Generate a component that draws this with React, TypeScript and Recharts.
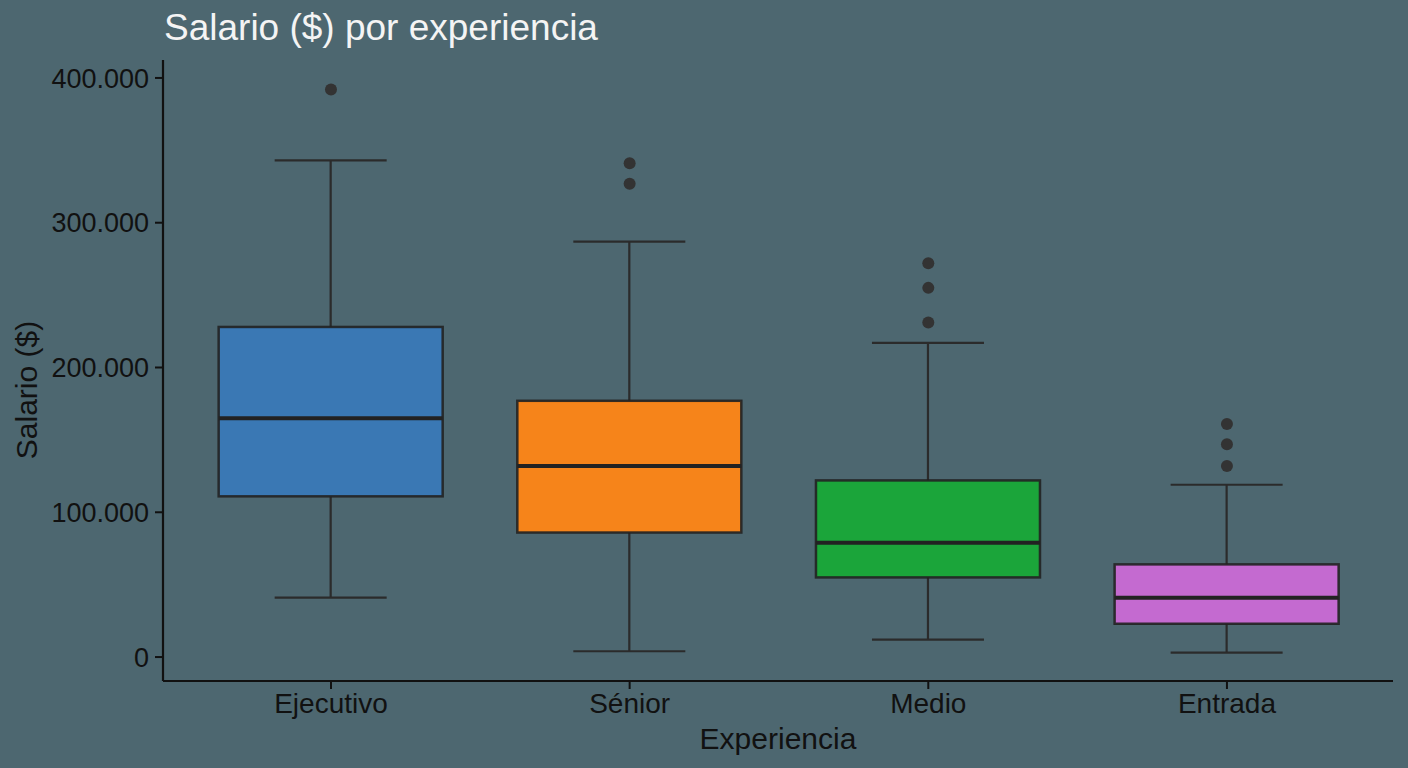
import React from 'react';
import { ComposedChart, Bar, Scatter, XAxis, YAxis } from 'recharts';

const categories = ['Ejecutivo', 'Sénior', 'Medio', 'Entrada'];
const boxColors = ['#3a78b4', '#f6841a', '#1ba53a', '#c46ad0'];
const lowWhisker = [41000, 4000, 12000, 3000];
const q1 = [111000, 86000, 55000, 23000];
const median = [165000, 132000, 79000, 41000];
const q3 = [228000, 177000, 122000, 64000];
const highWhisker = [343000, 287000, 217000, 119000];
const outliers = [[392000], [341000, 327000], [272000, 255000, 231000], [161000, 147000, 132000]];
const yTicks = [0, 100000, 200000, 300000, 400000];

const boxData = categories.map((name, i) => ({
  pos: i + 1,
  name,
  color: boxColors[i],
  min: lowWhisker[i],
  q1: q1[i],
  median: median[i],
  q3: q3[i],
  max: highWhisker[i],
  range: [lowWhisker[i], highWhisker[i]],
}));

const outlierData = outliers.flatMap((vals, i) => vals.map((v) => ({ pos: i + 1, value: v })));

const BG = '#4d6770';
const INK = '#111';
const LINE = '#2b2b2b';

const fmt = (v: number) => String(v).replace(/\B(?=(\d{3})+(?!\d))/g, '.');

// draws whiskers, box and median from the bar's own pixel range (min..max)
const BoxShape = (props: any) => {
  const { x, y, width, height, payload } = props;
  const top = Math.min(y, y + height);
  const h = Math.abs(height);
  const k = h / (payload.max - payload.min);
  const py = (v: number) => top + (payload.max - v) * k;
  const cx = x + width / 2;
  const cap = width / 4;
  return (
    <g>
      <line x1={cx} x2={cx} y1={py(payload.max)} y2={py(payload.min)} stroke={LINE} strokeWidth={2.2} />
      <line x1={cx - cap} x2={cx + cap} y1={py(payload.max)} y2={py(payload.max)} stroke={LINE} strokeWidth={2.2} />
      <line x1={cx - cap} x2={cx + cap} y1={py(payload.min)} y2={py(payload.min)} stroke={LINE} strokeWidth={2.2} />
      <rect
        x={x}
        y={py(payload.q3)}
        width={width}
        height={py(payload.q1) - py(payload.q3)}
        fill={payload.color}
        stroke="#222"
        strokeOpacity={0.9}
        strokeWidth={2.5}
      />
      <line x1={x} x2={x + width} y1={py(payload.median)} y2={py(payload.median)} stroke="#222" strokeWidth={4} />
    </g>
  );
};

const Dot = (props: any) => <circle cx={props.cx} cy={props.cy} r={6} fill="#333" />;

export default function App() {
  return (
    <div style={{ position: 'absolute', left: 0, top: 0, width: 1408, height: 768, background: BG, fontFamily: '"Liberation Sans", Arial, sans-serif' }}>
      <div style={{ position: 'absolute', left: 164, top: 9, fontSize: 37, lineHeight: 1, color: '#f4f4f4' }}>
        Salario ($) por experiencia
      </div>
      <ComposedChart
        width={1408}
        height={768}
        data={boxData}
        margin={{ top: 60, right: 15, bottom: 0, left: 0 }}
      >
        <XAxis
          dataKey="pos"
          type="number"
          domain={[0.4375, 4.556]}
          ticks={[1, 2, 3, 4]}
          tickFormatter={(v: number) => categories[v - 1] ?? ''}
          allowDataOverflow
          height={87}
          tickSize={8}
          tickMargin={4}
          axisLine={{ stroke: INK, strokeWidth: 2.2 }}
          tickLine={{ stroke: INK, strokeWidth: 2 }}
          tick={{ fill: INK, fontSize: 28 }}
          label={{
            content: () => (
              <text x={778} y={749} textAnchor="middle" fill={INK} fontSize={30}>
                Experiencia
              </text>
            ),
          }}
        />
        <YAxis
          type="number"
          domain={[-16550, 412400]}
          ticks={yTicks}
          allowDataOverflow
          width={163}
          tickFormatter={fmt}
          tickSize={8}
          tickMargin={6}
          axisLine={{ stroke: INK, strokeWidth: 2.2 }}
          tickLine={{ stroke: INK, strokeWidth: 2 }}
          tick={{ fill: INK, fontSize: 27 }}
          label={{
            content: () => (
              <text x={0} y={0} transform="translate(37 390) rotate(-90)" textAnchor="middle" fill={INK} fontSize={30}>
                Salario ($)
              </text>
            ),
          }}
        />
        <Bar dataKey="range" barSize={224} shape={BoxShape} isAnimationActive={false} />
        <Scatter data={outlierData} dataKey="value" shape={Dot} isAnimationActive={false} />
      </ComposedChart>
    </div>
  );
}
